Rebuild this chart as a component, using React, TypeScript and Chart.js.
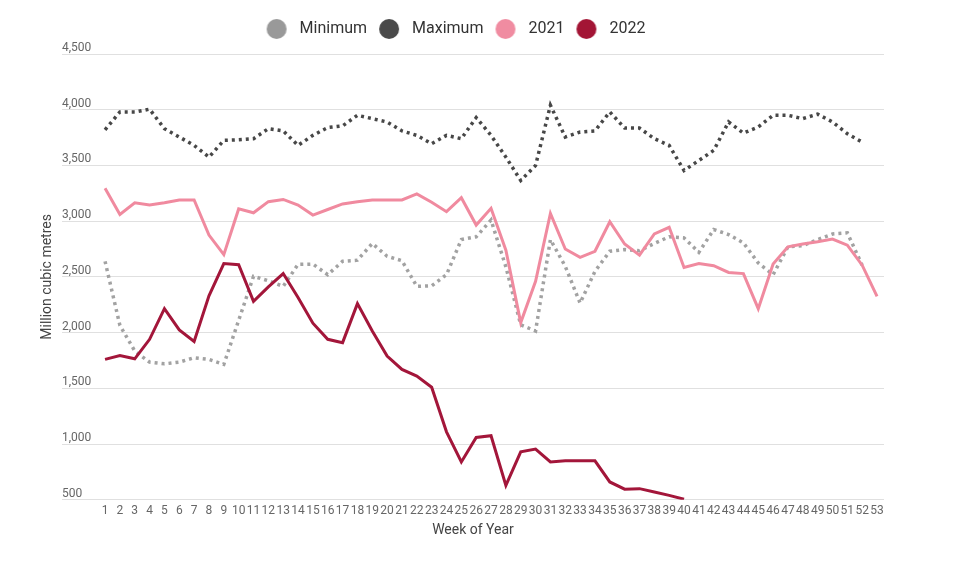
import React, { useEffect, useRef } from "react";
import { Chart, registerables, ChartConfiguration, Plugin } from "chart.js";

Chart.register(...registerables);

// weeks 1..53 on the x axis
const weeks: number[] = Array.from({ length: 53 }, (_, i) => i + 1);
const yTicks = [500, 1000, 1500, 2000, 2500, 3000, 3500, 4000, 4500];

const minimum = [
  2640, 2065, 1835, 1735, 1720, 1735, 1775, 1760, 1715, 2110,
  2505, 2465, 2415, 2612, 2615, 2520, 2640, 2650, 2800, 2685,
  2645, 2415, 2420, 2520, 2835, 2860, 3010, 2590, 2070, 2015,
  2835, 2595, 2265, 2550, 2730, 2745, 2735, 2800, 2860, 2850,
  2720, 2925, 2880, 2805, 2625, 2520, 2770, 2780, 2835, 2885,
  2895, 2605,
];
const maximum = [
  3820, 3980, 3980, 4005, 3830, 3755, 3680, 3575, 3725, 3730,
  3740, 3830, 3810, 3680, 3770, 3840, 3855, 3950, 3920, 3890,
  3810, 3770, 3695, 3770, 3740, 3930, 3770, 3575, 3365, 3500,
  4040, 3755, 3800, 3810, 3980, 3835, 3835, 3740, 3680, 3455,
  3545, 3635, 3890, 3790, 3845, 3950, 3950, 3920, 3960, 3890,
  3785, 3710,
];
const y2021 = [
  3295, 3060, 3165, 3145, 3165, 3190, 3190, 2875, 2700, 3110,
  3075, 3175, 3195, 3145, 3055, 3105, 3155, 3175, 3190, 3190,
  3190, 3245, 3170, 3085, 3210, 2965, 3115, 2740, 2090, 2460,
  3070, 2750, 2675, 2730, 2995, 2795, 2695, 2885, 2945, 2585,
  2620, 2600, 2540, 2530, 2215, 2615, 2770, 2795, 2815, 2840,
  2785, 2605, 2325,
];
const y2022 = [
  1760, 1795, 1765, 1940, 2215, 2025, 1920, 2330, 2620, 2610,
  2280, 2410, 2530, 2315, 2085, 1940, 1910, 2260, 2015, 1790,
  1670, 1610, 1510, 1110, 840, 1060, 1075, 630, 930, 955,
  840, 850, 850, 850, 660, 595, 600, 570, 540, 505,
];

const FONT = "Roboto, 'Noto Sans', sans-serif";

// legend dot: circle sits left of the box so the text gap matches
function makeDot(color: string): HTMLCanvasElement {
  const c = document.createElement("canvas");
  c.width = 40;
  c.height = 20;
  const ctx = c.getContext("2d");
  if (ctx) {
    ctx.fillStyle = color;
    ctx.beginPath();
    ctx.arc(13, 10, 10, 0, Math.PI * 2);
    ctx.fill();
  }
  return c;
}

// extra space under the legend
const legendGap: Plugin<"line"> = {
  id: "legendGap",
  beforeInit(chart) {
    const legend: any = (chart as any).legend;
    if (!legend) return;
    const fit = legend.fit;
    legend.fit = function () {
      fit.call(this);
      this.height += 7;
    };
  },
};

const toXY = (vals: number[]) => vals.map((v, i) => ({ x: weeks[i], y: v }));

const App: React.FC = () => {
  const chartRef = useRef<HTMLCanvasElement>(null);

  useEffect(() => {
    if (!chartRef.current) return;
    const ctx = chartRef.current.getContext("2d");
    if (!ctx) return;

    const config: ChartConfiguration<"line"> = {
      type: "line",
      data: {
        datasets: [
          {
            label: "Minimum",
            data: toXY(minimum),
            borderColor: "#a2a2a2",
            backgroundColor: "#a2a2a2",
            borderWidth: 3.5,
            borderDash: [3, 4],
            pointStyle: makeDot("#999999"),
            order: 3,
          },
          {
            label: "Maximum",
            data: toXY(maximum),
            borderColor: "#474747",
            backgroundColor: "#474747",
            borderWidth: 3.5,
            borderDash: [3, 4],
            pointStyle: makeDot("#4a4a4a"),
            order: 4,
          },
          {
            label: "2021",
            data: toXY(y2021),
            borderColor: "#f08a9f",
            backgroundColor: "#f08a9f",
            borderWidth: 3,
            pointStyle: makeDot("#f08ca1"),
            order: 2,
          },
          {
            label: "2022",
            data: toXY(y2022),
            borderColor: "#a3163a",
            backgroundColor: "#a3163a",
            borderWidth: 3,
            pointStyle: makeDot("#a31535"),
            order: 1,
          },
        ],
      },
      options: {
        responsive: true,
        maintainAspectRatio: false,
        animation: false,
        layout: { padding: { left: 37, right: 74, top: 0, bottom: 23 } },
        elements: {
          point: { radius: 0, hoverRadius: 0 },
          line: { tension: 0, borderJoinStyle: "miter" },
        },
        plugins: {
          legend: {
            position: "top",
            labels: {
              usePointStyle: true,
              boxWidth: 16,
              boxHeight: 14,
              padding: 21,
              color: "#333333",
              font: { family: FONT, size: 16 },
              sort: (a, b) => (a.datasetIndex ?? 0) - (b.datasetIndex ?? 0),
            },
          },
          tooltip: { enabled: false },
        },
        scales: {
          x: {
            type: "linear",
            min: -1.9,
            max: 53.47,
            afterBuildTicks: (axis) => {
              axis.ticks = weeks.map((w) => ({ value: w }));
            },
            grid: { display: false, drawTicks: false },
            border: { display: false },
            ticks: {
              autoSkip: false,
              maxRotation: 0,
              minRotation: 0,
              padding: 4,
              color: "#666666",
              font: { family: FONT, size: 12 },
              callback: (v) => String(v),
            },
            title: {
              display: true,
              text: "Week of Year",
              color: "#444444",
              font: { family: FONT, size: 14 },
              padding: { top: 0, bottom: 4 },
            },
          },
          y: {
            min: 500,
            max: 4500,
            afterBuildTicks: (axis) => {
              axis.ticks = yTicks.map((v) => ({ value: v }));
            },
            grid: { color: "#e0e0e0", lineWidth: 1, drawTicks: false },
            border: { display: false },
            ticks: {
              mirror: true,
              padding: 0,
              labelOffset: -6,
              color: "#666666",
              font: { family: FONT, size: 12 },
              callback: (v) => Number(v).toLocaleString("en-US"),
            },
            title: {
              display: true,
              text: "Million cubic metres",
              color: "#444444",
              font: { family: FONT, size: 14 },
              padding: { top: 2, bottom: 6.2 },
            },
          },
        },
      },
      plugins: [legendGap],
    };

    const chart = new Chart(ctx, config);
    return () => {
      chart.destroy();
    };
  }, []);

  return (
    <div style={{ position: "fixed", left: 0, top: 0, width: 958, height: 566 }}>
      <canvas ref={chartRef} />
    </div>
  );
};

export default App;
